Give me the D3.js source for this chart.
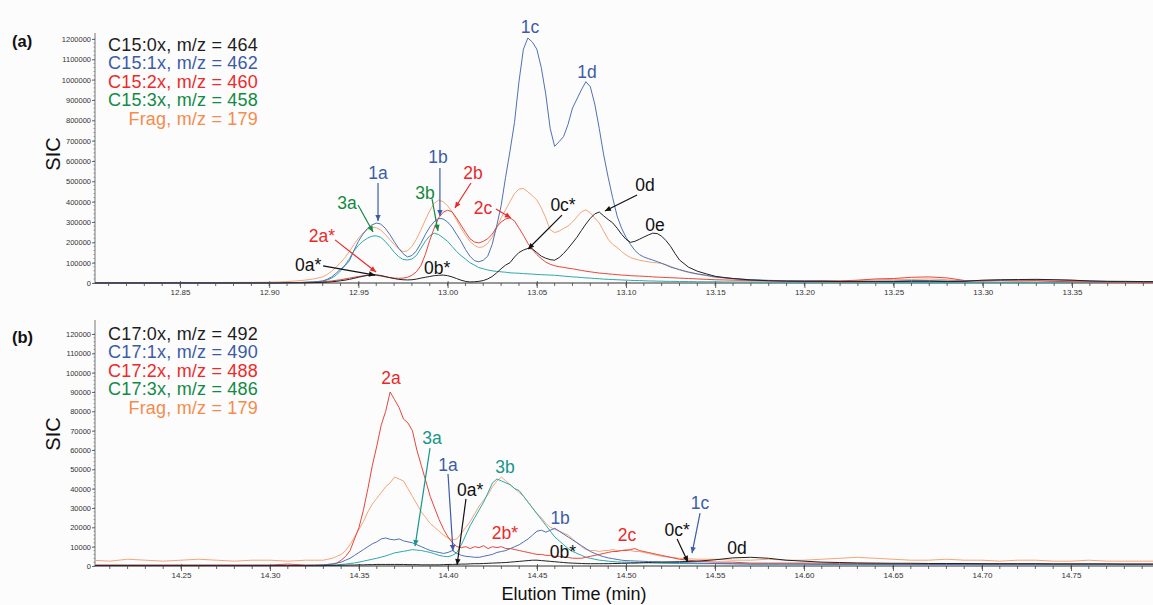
<!DOCTYPE html>
<html><head><meta charset="utf-8">
<script src="https://cdn.jsdelivr.net/npm/d3@7"></script>
<style>
body{margin:0;background:#fcfcfc;}
svg{display:block;font-family:"Liberation Sans",Arial,sans-serif;}
</style></head><body>
<svg id="chart" width="1153" height="605"></svg>
<script>
// ---------- Panel (a) data : elution time (min) and SIC (x1000 counts) ----------
const timeA = [
12.80,12.81,12.82,12.83,12.84,12.85,12.86,12.87,12.88,12.89,
12.90,12.905,12.91,12.915,12.92,12.925,12.93,12.9325,12.935,12.9375,
12.94,12.9425,12.945,12.9475,12.95,12.9525,12.955,12.9575,12.96,12.9625,
12.965,12.9675,12.97,12.9725,12.975,12.9775,12.98,12.9825,12.985,12.9875,
12.99,12.9925,12.995,12.9975,13.00,13.0025,13.005,13.0075,13.01,13.0125,
13.015,13.0175,13.02,13.0225,13.025,13.0275,13.03,13.0325,13.035,13.0375,
13.04,13.0425,13.045,13.0475,13.05,13.0525,13.055,13.0575,13.06,13.0625,
13.065,13.0675,13.07,13.0725,13.075,13.0775,13.08,13.0825,13.085,13.0875,
13.09,13.0925,13.095,13.0975,13.10,13.1025,13.105,13.1075,13.11,13.1125,
13.115,13.1175,13.12,13.1225,13.125,13.1275,13.13,13.135,13.14,13.145,
13.15,13.155,13.16,13.17,13.18,13.19,13.20,13.21,13.22,13.23,
13.24,13.25,13.26,13.27,13.28,13.29,13.30,13.31,13.32,13.33,
13.34,13.35,13.36,13.37,13.38,13.39,13.40];
const a0x = [
0,0,0,0,0,0,0,0,0,0,
0,0,1,1,1,2,3,4,6,8,
11,14,18,23,28,33,37,40,40,37,
32,27,22,18,16,15,16,19,24,28,
32,36,38,39,36,30,22,14,8,5,
6,8,12,20,32,50,70,88,100,128,
150,162,170,168,150,132,122,115,112,125,
145,170,197,225,258,290,318,340,349,330,
312,296,270,240,215,200,205,215,226,236,
245,243,230,208,180,145,113,78,58,45,
33,27,22,15,11,9,8,8,7,7,
7,7,8,8,7,8,14,16,17,18,
16,14,10,8,8,7,6];
const a1x = [
1,1,1,1,1,1,1,1,1,1,
1,1,1,2,3,5,10,18,30,48,
68,85,110,160,205,240,268,285,295,290,
270,240,205,172,145,128,135,158,195,238,
275,302,318,315,300,275,240,205,165,132,
110,104,112,132,190,280,380,520,650,790,
990,1150,1205,1185,1150,1060,930,760,672,695,
720,780,860,905,950,990,965,880,760,630,
520,420,330,270,225,190,160,140,128,120,
113,105,97,88,78,72,66,54,45,38,
30,26,22,16,13,11,10,9,8,8,
9,10,12,12,10,10,12,14,15,16,
15,13,10,8,7,6,6];
const a2x = [
1,1,1,1,1,1,1,1,1,1,
1,1,2,2,3,4,6,8,10,13,
16,20,24,28,32,35,38,40,38,34,
30,26,24,23,24,28,38,55,85,140,
210,270,320,348,358,350,320,285,250,218,
202,197,205,218,240,275,300,315,320,305,
270,235,195,165,140,120,103,92,85,80,
77,73,70,66,62,58,55,52,49,47,
45,43,41,39,38,36,35,34,33,32,
30,29,28,27,26,25,24,22,20,18,
16,15,14,12,10,9,10,11,10,14,
20,22,28,30,25,12,10,12,10,12,
8,6,5,4,4,3,3];
const a3x = [
1,1,1,1,1,1,1,1,1,1,
1,1,1,2,3,5,9,15,24,38,
60,88,120,158,185,205,220,230,232,225,
205,180,152,130,116,113,118,135,170,205,
232,245,238,222,205,180,155,135,118,100,
88,76,70,64,60,57,55,53,50,49,
48,46,45,44,42,41,40,39,38,36,
34,32,30,29,27,25,24,22,21,19,
18,17,16,15,14,13,12,12,11,10,
10,9,9,8,8,8,7,7,6,6,
6,5,5,5,4,4,4,4,4,4,
4,3,3,3,3,3,3,3,3,3,
3,3,3,3,3,3,3];
const aFrag = [
2,2,2,2,2,3,2,2,3,3,
4,5,7,10,14,20,30,42,58,78,
100,125,155,190,220,245,262,274,272,260,
240,215,190,168,154,158,180,215,260,310,
355,392,408,400,380,350,310,270,235,205,
185,175,178,195,225,270,320,360,400,440,
462,465,448,430,408,370,320,262,248,255,
268,280,300,325,350,360,345,320,295,255,
215,190,175,155,138,125,118,112,108,104,
101,99,96,90,82,73,64,52,43,36,
28,24,20,15,12,10,9,9,10,12,
15,18,17,20,16,10,9,10,10,9,
8,7,6,6,5,5,5];

// ---------- Panel (b) data ----------
const timeB = [
14.20,14.21,14.22,14.23,14.24,14.25,14.26,14.27,14.28,14.29,
14.30,14.31,14.32,14.325,14.3275,14.33,14.3325,14.335,14.3375,14.34,
14.3425,14.345,14.3475,14.35,14.3525,14.355,14.3575,14.36,14.3625,14.365,
14.3675,14.37,14.3725,14.375,14.3775,14.38,14.3825,14.385,14.3875,14.39,
14.3925,14.395,14.3975,14.40,14.4025,14.405,14.4075,14.41,14.4125,14.415,
14.4175,14.42,14.4225,14.425,14.4275,14.43,14.4325,14.435,14.4375,14.44,
14.4425,14.445,14.4475,14.45,14.4525,14.455,14.4575,14.46,14.4625,14.465,
14.4675,14.47,14.4725,14.475,14.4775,14.48,14.4825,14.485,14.4875,14.49,
14.4925,14.495,14.4975,14.50,14.5025,14.505,14.5075,14.51,14.5125,14.515,
14.5175,14.52,14.53,14.54,14.55,14.56,14.57,14.58,14.59,14.60,
14.61,14.62,14.63,14.64,14.65,14.66,14.67,14.68,14.69,14.70,
14.71,14.72,14.73,14.74,14.75,14.76,14.77,14.78,14.79,14.80];
const b0x = [
0.2,0.2,0.2,0.2,0.2,0.2,0.2,0.2,0.2,0.2,
0.2,0.2,0.2,0.2,0.2,0.2,0.3,0.3,0.3,0.4,
0.4,0.5,0.5,0.6,0.6,0.7,0.7,0.8,0.8,0.8,
0.8,0.8,0.8,0.8,0.7,0.7,0.7,0.6,0.6,0.6,
0.6,0.6,0.7,0.8,0.8,0.9,1,1,1.1,1.2,
1.2,1.3,1.4,1.5,1.6,1.7,1.8,2,2.2,2.4,
2.6,2.8,3,3,2.8,2.6,2.4,2.2,2,1.8,
1.6,1.5,1.4,1.3,1.2,1.2,1.2,1.2,1.2,1.2,
1.3,1.3,1.4,1.4,1.5,1.5,1.6,1.7,1.8,1.9,
2,2,2.2,2.5,3.2,4.2,4.5,4,3,2.5,
2,1.8,1.6,1.5,1.4,1.4,1.3,1.3,1.3,1.2,
1.2,1.2,1.2,1.1,1.1,1.1,1.1,1,1,1];
const b1x = [
0.3,0.3,0.3,0.3,0.3,0.3,0.3,0.3,0.3,0.3,
0.3,0.3,0.3,0.4,0.5,0.6,0.8,1,1.5,2,
3,4,5.5,7,8.5,10,11.5,12.5,14,14.5,
13.8,13.5,14,13,12.5,12,11,10,9,8,
7.5,7,6.5,7,8,6.5,5.5,5,4.8,4.5,
4.5,5,5.5,6,7,7.5,8,9,10,11,
12.5,14,16,18,18.5,17.5,18.5,19.5,18,16.5,
15,13.5,12,10.5,9,7.5,6.5,5.5,4.8,4.2,
3.8,3.4,3,2.8,2.7,2.6,2.5,2.4,2.3,2.2,
2.1,2,1.8,1.5,1.3,1.2,1,1,1,1,
0.9,0.9,0.9,0.8,0.8,0.8,0.8,0.8,0.8,0.8,
0.8,0.8,0.8,0.8,0.8,0.8,0.8,0.8,0.8,0.8];
const b2x = [
0.5,0.5,0.5,0.5,0.5,0.5,0.5,0.5,0.5,0.5,
0.5,1,0.5,0.5,0.5,0.6,0.8,1,1.5,3,
5,8,14,20,29,40,52,62,73,80,
90,86,82,76,74,70,60,52,44,36,
30,24,19,15,12,10,9.5,10,9,10,
9.5,10.5,9,10,9.5,10,9,9,8.5,8,
7.5,7,6.5,6,6,5.5,5.5,5,5,4.5,
4.5,4,4,4,4.5,5,5.5,6,6.5,7,
7.5,7.5,8,8,8.5,9,8,7.5,7,6.5,
6,5.5,3.5,2.5,2,2,1.5,1.5,1.5,1.5,
1.5,1.2,1.2,1.2,1,1,1,1,1,1,
1,1,1,1,1,1,1,1,1,1];
const b3x = [
0.3,0.3,0.3,0.3,0.3,0.3,0.3,0.3,0.3,0.3,
0.3,0.3,0.3,0.3,0.3,0.3,0.4,0.5,0.6,0.8,
1,1.3,1.6,2,2.5,3,3.5,4,4.6,5.2,
6,6.8,7.2,7.6,8,8.5,8.2,8,7.5,7,
6.3,5.5,5,4.8,5.5,7,11,16,21,25,
29,33,38,43,45,44,43,42,40,39,
36,33,30,27,24,21,18,15,13,11,
9,7.5,6.5,5.5,4.5,4,3.5,3,2.8,2.5,
2.3,2.1,2,2,1.9,1.8,1.8,1.7,1.6,1.5,
1.5,1.4,1.3,1.2,1.2,1.1,1,1,1,1,
0.9,0.9,0.9,0.8,0.8,0.8,0.8,0.8,0.8,0.8,
0.8,0.8,0.8,0.8,0.8,0.8,0.8,0.8,0.8,0.8];
const bFrag = [
3,2.5,3.5,3,2.5,3,3.5,3,2.5,3,
3,2.5,3,3,3,3,3.5,4,5,6,
8,11,15,19,23,28,32,35,38,41,
43,46,45,44,40,36,32,28,25,22,
20,18,16,14.5,13.5,14,17,20,23,27,
31,34,37,41,44,46,44,42,40,38,
36,33,30,27,25,22,20,19,18,17,
16,14,12,10,8.5,8,8,7.5,8,8,
8.5,8,8,8.5,8,7.5,7.5,7,6.5,6,
5.5,5,4,3.5,3.5,3,3,3.5,3,3,
3.5,4,4.5,4,3.5,3,3,3.5,3,3,
2.5,3,3,2.5,2.5,3,2.5,2.5,2.5,2.5];

// ---------- tick labels ----------
const xTicksA = [12.85,12.90,12.95,13.00,13.05,13.10,13.15,13.20,13.25,13.30,13.35];
const xTicksB = [14.25,14.30,14.35,14.40,14.45,14.50,14.55,14.60,14.65,14.70,14.75];
const yTicksA = [0,100,200,300,400,500,600,700,800,900,1000,1100,1200];   // x1000
const yTicksB = [0,10,20,30,40,50,60,70,80,90,100,110,120];             // x1000

// ---------- legend texts ----------
const legendA = ["C15:0x, m/z = 464","C15:1x, m/z = 462","C15:2x, m/z = 460","C15:3x, m/z = 458","Frag, m/z = 179"];
const legendB = ["C17:0x, m/z = 492","C17:1x, m/z = 490","C17:2x, m/z = 488","C17:3x, m/z = 486","Frag, m/z = 179"];

// ---------- peak annotations: [label, colour key, text t, text v, arrow from t,v, arrow to t,v] ----------
const annA = [
 ["1a","blue",12.961,541, 12.961,492, 12.961,305],
 ["3a","green",12.9436,394, 12.9498,384, 12.9582,251],
 ["2a*","red",12.9296,231, 12.9369,212, 12.9599,54],
 ["0a*","black",12.9218,89, 12.9302,84, 12.9593,39],
 ["1b","blue",12.9946,620, 12.9957,566, 12.9957,330],
 ["3b","green",12.9873,443, 12.9913,413, 12.9946,256],
 ["2b","red",13.0142,541, 13.0131,492, 13.0041,369],
 ["0b*","black",12.9941,74],
 ["2c","red",13.0198,369, 13.0271,364, 13.0355,320],
 ["0c*","black",13.0647,384, 13.0641,334, 13.0451,167],
 ["0d","black",13.1106,482, 13.1062,433, 13.0882,354],
 ["0e","black",13.1162,285],
 ["1c","blue",13.0462,1259],
 ["1d","blue",13.0781,1038]
];
const annB = [
 ["2a","red",14.368,97.3],
 ["3a","teal",14.391,66.2, 14.3899,61.0, 14.3815,10.3],
 ["1a","blue",14.400,52.2, 14.400,47.6, 14.4028,7.8],
 ["0a*","black",14.4124,39.3, 14.4101,34.7, 14.4051,0.5],
 ["3b","teal",14.432,51.2],
 ["2b*","red",14.432,17.1],
 ["1b","blue",14.463,24.8],
 ["0b*","black",14.4646,7.2],
 ["2c","red",14.5006,16.0],
 ["0c*","black",14.5287,18.6, 14.5287,14.0, 14.5348,2.1],
 ["1c","blue",14.5416,32.6, 14.5416,27.4, 14.5371,6.7],
 ["0d","black",14.5624,9.3]
];

// ---------- styles ----------
const traceColors = {frag:"#f3a678", x3:"#2ea9a8", x2:"#e8463d", x1:"#5071b4", x0:"#222222"};
const legendColors = ["#1e1e1e","#3b5ba5","#ec2a2a","#128a46","#f58b4c"];
const annColors = {blue:"#3d5ca8", red:"#ea2a2a", green:"#15893f", teal:"#17968a", black:"#111111"};

const W=1153,H=605;
const svg=d3.select("#chart");
svg.append("rect").attr("width",W).attr("height",H).attr("fill","#fcfcfc");
const defs=svg.append("defs");
Object.entries(annColors).forEach(([k,c])=>{
  defs.append("marker").attr("id","arr-"+k).attr("viewBox","0 0 10 10")
    .attr("refX",10).attr("refY",5).attr("markerWidth",7).attr("markerHeight",6)
    .attr("markerUnits","userSpaceOnUse").attr("orient","auto")
    .append("path").attr("d","M0,0.5 L10,5 L0,9.5 z").attr("fill",c);
});

function drawPanel(p){
  const x=d3.scaleLinear().domain([p.xTicks[0],p.xTicks[p.xTicks.length-1]]).range([p.xl,p.xr]);
  const y=d3.scaleLinear().domain([0,p.yTicks[p.yTicks.length-1]]).range([p.y0,p.yT]);
  const left=95, right=W;
  defs.append("clipPath").attr("id","clip"+p.id).append("rect")
    .attr("x",left).attr("y",p.top-30).attr("width",right-left).attr("height",p.y0-p.top+31);

  // x minor ticks
  const minor=d3.range(Math.ceil(x.invert(left)*100),Math.floor(x.invert(right)*100)+1).map(v=>v/100);
  svg.append("g").selectAll("line").data(minor).join("line")
    .attr("x1",d=>x(d)).attr("x2",d=>x(d)).attr("y1",p.y0).attr("y2",p.y0+3)
    .attr("stroke","#444").attr("stroke-width",0.8);
  // x axis
  const gx=svg.append("g").attr("transform",`translate(0,${p.y0})`)
    .call(d3.axisBottom(x).tickValues(p.xTicks).tickFormat(d3.format(".2f")).tickSize(5).tickPadding(1).tickSizeOuter(0));
  gx.select(".domain").remove();
  gx.selectAll("line").attr("stroke","#444").attr("stroke-width",0.8).attr("y1",-2);
  gx.selectAll("text").attr("font-size",8).attr("fill","#333").attr("font-family","'Liberation Sans',Arial,sans-serif");
  svg.append("line").attr("x1",left).attr("x2",right).attr("y1",p.y0).attr("y2",p.y0).attr("stroke","#333").attr("stroke-width",1);

  // y axis
  const gy=svg.append("g").attr("transform",`translate(${left},0)`)
    .call(d3.axisLeft(y).tickValues(p.yTicks).tickFormat(d=>d3.format("d")(d*1000)).tickSize(3).tickPadding(1).tickSizeOuter(0));
  gy.select(".domain").remove();
  gy.selectAll("line").attr("stroke","#444").attr("stroke-width",0.8);
  gy.selectAll("text").attr("font-size",7.5).attr("fill","#333").attr("font-family","'Liberation Sans',Arial,sans-serif");
  const ymin=d3.range(0,p.yTicks[p.yTicks.length-1]+1e-9,p.yTicks[1]/5);
  svg.append("g").selectAll("line").data(ymin).join("line")
    .attr("x1",left-1.5).attr("x2",left).attr("y1",d=>y(d)).attr("y2",d=>y(d))
    .attr("stroke","#666").attr("stroke-width",0.6);
  svg.append("line").attr("x1",left).attr("x2",left).attr("y1",p.top).attr("y2",p.y0)
    .attr("stroke","#555").attr("stroke-width",0.8);

  // traces
  const line=d3.line().x((d,i)=>x(p.time[i])).y(d=>y(d));
  const tg=svg.append("g").attr("clip-path",`url(#clip${p.id})`);
  p.series.forEach(s=>{
    tg.append("path").datum(s.values).attr("d",line).attr("fill","none")
      .attr("stroke",s.color).attr("stroke-width",1).attr("stroke-linejoin","round");
  });

  // annotations
  const ag=svg.append("g");
  p.ann.forEach(a=>{
    const col=annColors[a[1]];
    if(a.length>4){
      ag.append("line").attr("x1",x(a[4])).attr("y1",y(a[5])).attr("x2",x(a[6])).attr("y2",y(a[7]))
        .attr("stroke",col).attr("stroke-width",1.2).attr("marker-end",`url(#arr-${a[1]})`);
    }
    ag.append("text").attr("x",x(a[2])).attr("y",y(a[3])).attr("text-anchor","middle")
      .attr("dominant-baseline","central").attr("font-size",17.5).attr("fill",col).text(a[0]);
  });

  // legend
  svg.append("g").selectAll("text").data(p.legend).join("text")
    .attr("x",258).attr("y",(d,i)=>p.legY+i*18.4).attr("text-anchor","end")
    .attr("font-size",18).attr("letter-spacing",0.2).attr("fill",(d,i)=>legendColors[i]).text(d=>d);

  // panel letter & y label
  svg.append("text").attr("x",12).attr("y",p.letterY).attr("font-size",16.5).attr("font-weight","bold").attr("fill","#111").text(p.letter);
  svg.append("text").attr("transform",`translate(53,${p.sicY}) rotate(-90)`).attr("text-anchor","middle")
    .attr("dominant-baseline","central").attr("font-size",20).attr("fill","#111").text("SIC");
}

drawPanel({id:"a", time:timeA, xTicks:xTicksA, yTicks:yTicksA, xl:180, xr:1072, y0:283, yT:39, top:33,
  series:[{values:aFrag,color:traceColors.frag},{values:a3x,color:traceColors.x3},{values:a2x,color:traceColors.x2},
          {values:a1x,color:traceColors.x1},{values:a0x,color:traceColors.x0}],
  ann:annA, legend:legendA, legY:51, letter:"(a)", letterY:47, sicY:154});
drawPanel({id:"b", time:timeB, xTicks:xTicksB, yTicks:yTicksB, xl:181, xr:1071, y0:566, yT:334, top:320,
  series:[{values:bFrag,color:traceColors.frag},{values:b3x,color:traceColors.x3},{values:b2x,color:traceColors.x2},
          {values:b1x,color:traceColors.x1},{values:b0x,color:traceColors.x0}],
  ann:annB, legend:legendB, legY:340, letter:"(b)", letterY:343, sicY:434});

svg.append("text").attr("x",574).attr("y",600).attr("text-anchor","middle").attr("font-size",18).attr("fill","#111").text("Elution Time (min)");
</script>
</body></html>
